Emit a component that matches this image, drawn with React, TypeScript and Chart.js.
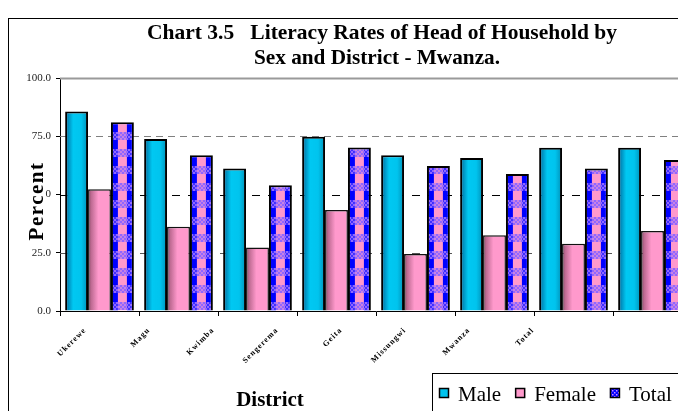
import React, { useEffect, useRef } from 'react';
import { Chart, registerables } from 'chart.js';

Chart.register(...registerables);

const categories = ['Ukerewe', 'Magu', 'Kwimba', 'Sengerema', 'Geita', 'Missungwi', 'Mwanza', 'Total'];
const maleValues = [85.6, 73.8, 61.2, 74.8, 66.8, 65.7, 70.1, 70.1];
const femaleValues = [52.2, 36.2, 27.2, 43.3, 24.5, 32.5, 28.9, 34.3];
const totalValues = [81.0, 66.8, 54.0, 70.2, 62.2, 58.8, 61.2, 64.8];
const yTicks = [0, 25, 50, 75, 100];
const seriesLabels = ['Male', 'Female', 'Total'];
const titleLines = ['Chart 3.5   Literacy Rates of Head of Household by', 'Sex and District - Mwanza.'];
const xTitle = 'District';
const yTitle = 'Percent';

const SERIF = '"Liberation Serif", "Times New Roman", serif';
const CAT_PCT = 0.87;
const TILE_W = 79;
const TILE_H = 17;

function barSpan(i: number): [number, number] {
  const g = ((1 - CAT_PCT) / 2) * TILE_W;
  const w = (CAT_PCT * TILE_W) / 3;
  return [g + i * w, g + (i + 1) * w];
}

function makeTile(i: number): HTMLCanvasElement {
  const c = document.createElement('canvas');
  c.width = TILE_W;
  c.height = TILE_H;
  const g = c.getContext('2d')!;
  const [a, b] = barSpan(i);
  if (i === 0) {
    const gr = g.createLinearGradient(a, 0, b, 0);
    gr.addColorStop(0, '#003f5c');
    gr.addColorStop(0.12, '#0088b8');
    gr.addColorStop(0.35, '#00c8f2');
    gr.addColorStop(0.7, '#00c4ee');
    gr.addColorStop(1, '#0090b8');
    g.fillStyle = gr;
    g.fillRect(0, 0, TILE_W, TILE_H);
  } else if (i === 1) {
    const gr = g.createLinearGradient(a, 0, b, 0);
    gr.addColorStop(0, '#8a4866');
    gr.addColorStop(0.15, '#c06c94');
    gr.addColorStop(0.45, '#ff99cc');
    gr.addColorStop(1, '#ff99cc');
    g.fillStyle = gr;
    g.fillRect(0, 0, TILE_W, TILE_H);
  } else {
    g.fillStyle = '#0000ff';
    g.fillRect(0, 0, TILE_W, TILE_H);
    const mid = (a + b) / 2;
    g.fillStyle = '#ff99cc';
    g.fillRect(mid - 4.5, 0, 9, TILE_H);
    g.fillStyle = '#9966ff';
    for (let x = 0; x < TILE_W; x += 2) {
      for (let y = 0; y < 8; y += 2) {
        if (((x + y) / 2) % 2 === 0) g.fillRect(x, y, 2, 2);
      }
    }
    g.fillStyle = 'rgba(136,102,255,0.45)';
    g.fillRect(0, 0, TILE_W, 8);
  }
  return c;
}

function bgFor(i: number) {
  let cache: { key: string; pat: CanvasPattern } | null = null;
  let tile: HTMLCanvasElement | null = null;
  const fallback = ['#00c8f0', '#ff99cc', '#0000ff'][i];
  return (ctx: any) => {
    const chart = ctx.chart;
    const area = chart.chartArea;
    if (!area) return fallback;
    const key = area.left + ':' + area.right + ':' + area.top;
    if (cache && cache.key === key) return cache.pat;
    if (!tile) tile = makeTile(i);
    const pat = chart.ctx.createPattern(tile, 'repeat') as CanvasPattern;
    const cw = (area.right - area.left) / categories.length;
    pat.setTransform(new DOMMatrix().translate(area.left, area.top + 3).scale(cw / TILE_W, 1));
    cache = { key, pat };
    return pat;
  };
}

const gridPlugin = {
  id: 'refGrid',
  beforeDatasetsDraw(chart: any) {
    const { ctx, chartArea: a, scales } = chart;
    const y = scales.y;
    ctx.save();
    const styles: Record<number, { c: string; d: number[]; w: number }> = {
      25: { c: '#555', d: [8, 8], w: 1 },
      50: { c: '#000', d: [8, 8], w: 1 },
      75: { c: '#808080', d: [7, 5], w: 1 },
      100: { c: '#9a9a9a', d: [], w: 2 },
    };
    yTicks.forEach((v) => {
      const s = styles[v];
      if (!s) return;
      const py = Math.round(y.getPixelForValue(v)) + 0.5;
      ctx.strokeStyle = s.c;
      ctx.lineWidth = s.w;
      ctx.setLineDash(s.d);
      ctx.beginPath();
      ctx.moveTo(a.left, py);
      ctx.lineTo(a.right, py);
      ctx.stroke();
    });
    ctx.restore();
  },
};

const textPlugin = {
  id: 'refText',
  afterDraw(chart: any) {
    const { ctx, chartArea: a, scales } = chart;
    const xs = scales.x;
    ctx.save();
    // title
    ctx.fillStyle = '#000';
    ctx.textAlign = 'center';
    ctx.textBaseline = 'alphabetic';
    ctx.font = `bold 22px ${SERIF}`;
    const targets = [
      { w: 470, cx: 373, by: 20 },
      { w: 246, cx: 368, by: 45 },
    ];
    titleLines.forEach((t, i) => {
      const m = ctx.measureText(t).width;
      const sx = targets[i].w / m;
      ctx.save();
      ctx.translate(targets[i].cx, targets[i].by);
      ctx.scale(sx, 1);
      ctx.fillText(t, 0, 0);
      ctx.restore();
    });
    // category labels
    ctx.font = `bold 8px ${SERIF}`;
    (ctx as any).letterSpacing = '1px';
    ctx.textAlign = 'right';
    ctx.textBaseline = 'middle';
    categories.forEach((c, i) => {
      const px = xs.getPixelForValue(i);
      const x = a.left + (px - a.left) * 0.81 - 7;
      const yy = a.bottom + 18;
      ctx.save();
      ctx.translate(x, yy);
      ctx.rotate(-Math.PI / 4);
      ctx.fillText(c, 0, 0);
      ctx.restore();
    });
    (ctx as any).letterSpacing = '0px';
    // x title
    ctx.font = `bold 21px ${SERIF}`;
    ctx.textAlign = 'center';
    ctx.textBaseline = 'alphabetic';
    ctx.fillText(xTitle, 261, 387);
    // y title
    ctx.save();
    ctx.translate(34, 182);
    ctx.rotate(-Math.PI / 2);
    ctx.font = `bold 21px ${SERIF}`;
    (ctx as any).letterSpacing = '1.5px';
    const yw = ctx.measureText(yTitle).width;
    ctx.fillStyle = '#fff';
    ctx.fillRect(-yw / 2 - 1, -16, yw + 2, 18);
    ctx.fillStyle = '#000';
    ctx.fillText(yTitle, 0, 0);
    (ctx as any).letterSpacing = '0px';
    ctx.restore();
    // legend
    const lx = 423;
    const ly = 354;
    ctx.fillStyle = '#fff';
    ctx.fillRect(lx, ly, 400, 100);
    ctx.strokeStyle = '#000';
    ctx.lineWidth = 1;
    ctx.strokeRect(lx + 0.5, ly + 0.5, 400, 100);
    ctx.font = `21px ${SERIF}`;
    ctx.textAlign = 'left';
    let x = 430;
    seriesLabels.forEach((lab, i) => {
      const my = 369;
      const ms = 10;
      if (i === 0) {
        ctx.fillStyle = '#00c4ee';
        ctx.fillRect(x, my, ms, ms);
      } else if (i === 1) {
        ctx.fillStyle = '#ff99cc';
        ctx.fillRect(x, my, ms, ms);
      } else {
        ctx.fillStyle = '#0000ff';
        ctx.fillRect(x, my, ms, ms);
        ctx.fillStyle = '#cc88ff';
        for (let px = 0; px < ms; px += 2)
          for (let py = 0; py < ms; py += 2)
            if (((px + py) / 2) % 2 === 0) ctx.fillRect(x + px, my + py, 1.5, 1.5);
      }
      ctx.strokeStyle = '#000';
      ctx.lineWidth = 1.5;
      ctx.strokeRect(x + 0.5, my + 0.5, ms - 1, ms - 1);
      ctx.fillStyle = '#000';
      ctx.fillText(lab, x + 19, 382);
      x = x + 19 + ctx.measureText(lab).width + 14;
    });
    ctx.restore();
  },
};

export default function App() {
  const ref = useRef<HTMLCanvasElement>(null);
  useEffect(() => {
    const chart = new Chart(ref.current!, {
      type: 'bar',
      data: {
        labels: categories,
        datasets: [
          { label: seriesLabels[0], data: maleValues, backgroundColor: bgFor(0) as any, borderColor: '#000', borderWidth: 2 },
          { label: seriesLabels[1], data: femaleValues, backgroundColor: bgFor(1) as any, borderColor: '#111', borderWidth: 1.5 },
          { label: seriesLabels[2], data: totalValues, backgroundColor: bgFor(2) as any, borderColor: '#000', borderWidth: 2 },
        ],
      },
      options: {
        responsive: false,
        animation: false,
        events: [],
        layout: { padding: { top: 59, right: 17, bottom: 0, left: 0 } },
        datasets: { bar: { categoryPercentage: CAT_PCT, barPercentage: 1 } },
        plugins: { legend: { display: false }, title: { display: false }, tooltip: { enabled: false } },
        scales: {
          x: {
            ticks: { display: false },
            grid: { drawOnChartArea: false, drawTicks: true, tickLength: 5, color: '#000', offset: true },
            border: { color: '#000', width: 1 },
            afterFit(s: any) {
              s.height = 100;
            },
          },
          y: {
            min: 0,
            max: 100,
            afterBuildTicks(s: any) {
              s.ticks = yTicks.map((v) => ({ value: v }));
            },
            ticks: {
              callback: (v: any) => Number(v).toFixed(1),
              font: { family: SERIF, size: 11 },
              color: '#222',
              padding: 5,
            },
            grid: { drawOnChartArea: false, tickLength: 4, color: '#000' },
            border: { color: '#000', width: 1 },
            afterFit(s: any) {
              s.width = 51;
            },
          },
        },
      } as any,
      plugins: [gridPlugin, textPlugin],
    });
    return () => chart.destroy();
  }, []);
  return (
    <div style={{ position: 'fixed', left: 0, top: 0, width: 678, height: 411, overflow: 'hidden', background: '#fff' }}>
      <div
        style={{
          position: 'absolute',
          left: 8,
          top: 18,
          width: 800,
          height: 500,
          borderLeft: '1px solid #000',
          borderTop: '1px solid #000',
        }}
      />
      <canvas ref={ref} width={700} height={392} style={{ position: 'absolute', left: 9, top: 19 }} />
    </div>
  );
}
